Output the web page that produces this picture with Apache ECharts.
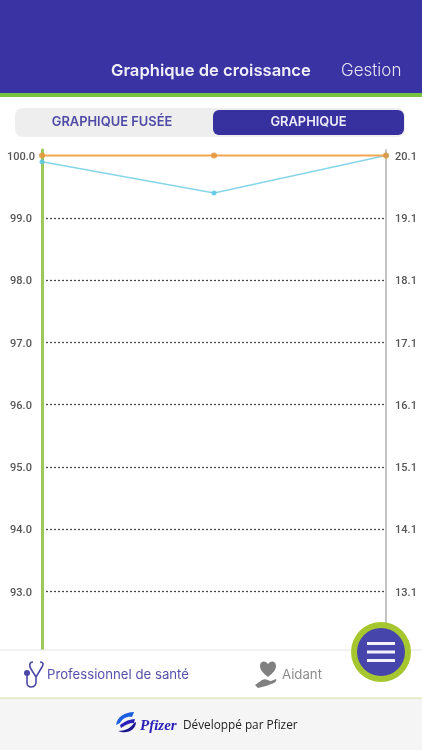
<!DOCTYPE html>
<html>
<head>
<meta charset="utf-8">
<style>html,body{margin:0;padding:0;background:#fff}#chart{width:422px;height:750px}#icons{position:absolute;left:0;top:0;pointer-events:none}</style>
<script src="https://cdn.jsdelivr.net/npm/echarts@6/dist/echarts.min.js"></script>
</head>
<body>
<div id="chart"></div>
<svg id="icons" width="422" height="750">
    <!-- stethoscope -->
    <path d="M33 662 C29 662 29 666 31 669 L36 677 L42 667 C44 664 43 662 40 662 M36 677 L36 682 C36 688 27 689 27 683 L27 675" fill="none" stroke="#4B47A8" stroke-width="1.6"/>
    <circle cx="27" cy="673" r="3" fill="#4B47A8"/>
    <!-- main avec coeur -->
    <path d="M268 677 C263 673 260 670 260 666 C260 661 265 660 268 664 C271 660 276 661 276 666 C276 670 273 673 268 677 Z M255 685 L262 680 C266 678 268 681 271 681 L276 679 C277 680 276 682 274 683 L266 686 L258 688 Z" fill="#808080"/>
    <!-- logo -->
    <path d="M116 725 C117 717 125 712 134 712 L132 717 C127 716 122 719 120 723 Z" fill="#1B5FE0"/>
    <path d="M120 725 C125 721 130 719 135 719 L134 723 C129 723 125 725 121 728 Z" fill="#2A20B8"/>
    <path d="M136 722 C136 729 128 735 118 731 C125 731 131 728 134 723 Z" fill="#1D1690"/>
</svg>
<script>
var categories = ['1', '2', '3'];
var orangeValues = [100.0, 100.0, 100.0];
var blueValues = [99.9, 99.4, 100.0];
var leftTicks = [93, 94, 95, 96, 97, 98, 99, 100];
var rightTicks = [13.1, 14.1, 15.1, 16.1, 17.1, 18.1, 19.1, 20.1];
// pas de pointille sous la ligne orange a 100
var gridTicks = [93, 94, 95, 96, 97, 98, 99];

var font = 'Inter, Roboto, sans-serif';
function label(x, y, text, size, color, weight, align) {
    return {
        type: 'text', x: x, y: y, z: 20,
        style: { text: text, fontFamily: font, fontSize: size, fill: color, fontWeight: weight || 400, align: align || 'left', verticalAlign: 'middle' }
    };
}
function box(x, y, w, h, color, r) {
    return { type: 'rect', z: 10, shape: { x: x, y: y, width: w, height: h, r: r || 0 }, style: { fill: color } };
}
function tickText(v) {
    return v.toFixed(1);
}

var myChart = echarts.init(document.getElementById('chart'));
var option = {
    backgroundColor: '#fff',
    animation: false,
    grid: { left: 42, right: 36, top: 150, bottom: 96.5 },
    xAxis: {
        type: 'category',
        data: categories,
        boundaryGap: false,
        axisLine: { show: false },
        axisTick: { show: false },
        axisLabel: { show: false }
    },
    yAxis: [{
        type: 'value',
        min: 92,
        max: 100.09,
        axisLine: { show: true, onZero: false, lineStyle: { color: '#9CC75A', width: 3 } },
        axisTick: { show: false, customValues: gridTicks },
        axisLabel: { customValues: leftTicks, color: '#555', fontSize: 11, fontWeight: 500, fontFamily: 'Roboto, sans-serif',
            margin: 21, align: 'center', verticalAlign: 'top', lineHeight: 3, formatter: tickText },
        splitLine: { show: true, lineStyle: { color: '#4A4A4A', type: [2, 2], width: 1.3 } }
    }, {
        type: 'value',
        position: 'right',
        min: 12.1,
        max: 20.19,
        axisLine: { show: true, onZero: false, lineStyle: { color: '#C4C4C4', width: 2 } },
        axisTick: { show: false, customValues: rightTicks },
        axisLabel: { customValues: rightTicks, color: '#555', fontSize: 11, fontWeight: 500, fontFamily: 'Roboto, sans-serif',
            margin: 20, align: 'center', verticalAlign: 'top', lineHeight: 3, formatter: tickText },
        splitLine: { show: false }
    }],
    series: [{
        name: 'blue',
        type: 'line',
        data: blueValues,
        symbol: 'circle',
        symbolSize: 5,
        clip: false,
        z: 3,
        lineStyle: { color: '#86D5E8', width: 1.5 },
        itemStyle: { color: '#5CC6E4', opacity: 0.85 }
    }, {
        name: 'orange',
        type: 'line',
        data: orangeValues,
        symbol: 'circle',
        symbolSize: 6,
        clip: false,
        z: 4,
        lineStyle: { color: '#F4A652', width: 2 },
        itemStyle: { color: '#E2963A', opacity: 0.85 }
    }],
    graphic: [
        // header
        box(0, 0, 422, 93, '#3A33A3'),
        box(0, 93, 422, 4, '#76C442'),
        label(111, 71, 'Graphique de croissance', 16.6, '#F1F0FA', 600),
        label(341, 71, 'Gestion', 17, '#E4E3F4', 300),
        // onglets
        box(15, 108, 390, 29, '#EEEEEE', 8),
        box(213, 110, 191, 25, '#37309F', 6),
        label(112, 122.5, 'GRAPHIQUE FUSÉE', 12.9, '#4F4AA6', 600, 'center'),
        label(308.5, 122.5, 'GRAPHIQUE', 12.9, '#EDECF8', 600, 'center'),
        // bas de page
        box(0, 650, 422, 48, '#FFFFFF'),
        box(0, 649.5, 422, 1, '#E6E6E6'),
        box(0, 698, 422, 52, '#F5F5F5'),
        box(0, 697.5, 422, 1.2, '#DCE6B0'),
        label(47, 675, 'Professionnel de santé', 13.2, '#5551AB', 400),
        label(282, 675, 'Aidant', 13.2, '#8C8C8C', 400),
        {
            type: 'text', x: 140, y: 726, z: 20,
            style: { text: 'Pfizer', fontFamily: '"Liberation Serif", serif', fontStyle: 'italic', fontWeight: 700, fontSize: 15, fill: '#2A20B8', verticalAlign: 'middle' }
        },
        { type: 'text', x: 183, y: 726, z: 20,
            style: { text: 'Développé par Pfizer', fontFamily: '"Open Sans", sans-serif', fontSize: 11.8, fill: '#222', verticalAlign: 'middle' } },
        // bouton menu
        { type: 'circle', z: 30, shape: { cx: 381, cy: 652, r: 30 }, style: { fill: '#A6C62F' } },
        { type: 'circle', z: 31, shape: { cx: 381, cy: 652, r: 24 }, style: { fill: '#4645AB' } },
        { type: 'rect', z: 32, shape: { x: 367, y: 642, width: 28, height: 3 }, style: { fill: '#F2F2FA' } },
        { type: 'rect', z: 32, shape: { x: 367, y: 650.5, width: 28, height: 3 }, style: { fill: '#F2F2FA' } },
        { type: 'rect', z: 32, shape: { x: 367, y: 659, width: 28, height: 3 }, style: { fill: '#F2F2FA' } }
    ]
};
myChart.setOption(option);
</script>
</body>
</html>
